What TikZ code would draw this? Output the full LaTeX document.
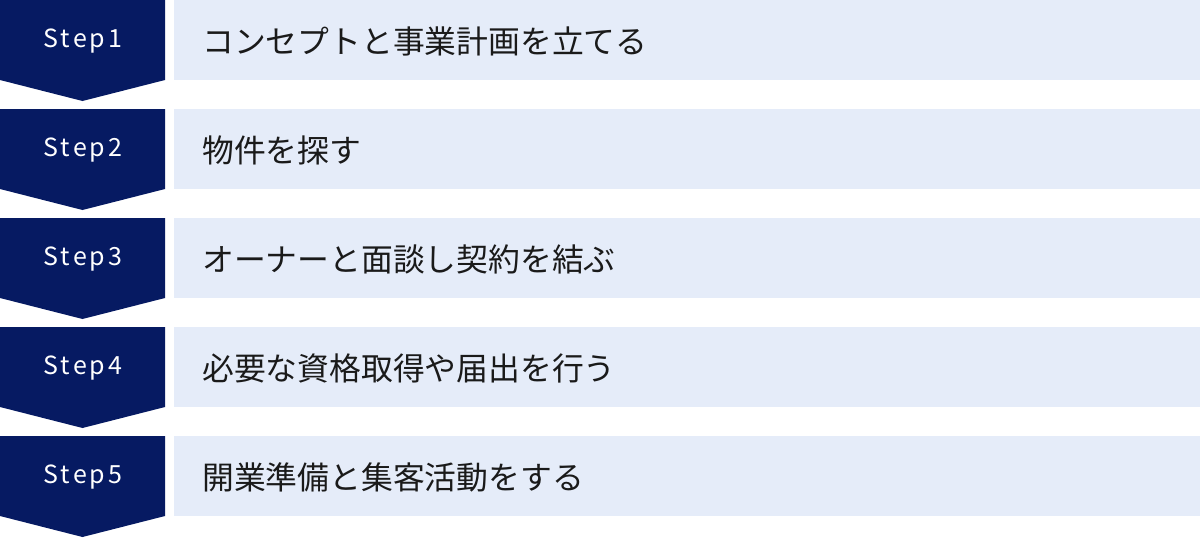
\documentclass[tikz,border=0pt]{standalone}
\usepackage{fontspec}
\setmainfont{Noto Sans CJK JP}
\newfontfamily\stepfont[LetterSpace=12]{Noto Sans CJK JP}
\definecolor{navy}{HTML}{061A62}
\definecolor{pale}{HTML}{E5ECF9}
\definecolor{ink}{HTML}{1A1A1A}
\tikzset{
  chevron/.style={fill=navy, draw=none},
  bar/.style={fill=pale, draw=none, inner sep=0pt, anchor=north west, minimum width=1026pt, minimum height=80pt},
  steplabel/.style={text=white, inner sep=0pt, anchor=base, font=\fontsize{25}{30}\stepfont},
  desc/.style={text=ink, inner sep=0pt, anchor=west, font=\fontsize{31.8}{38}\selectfont},
}
\begin{document}
\begin{tikzpicture}[x=1pt,y=-1pt]
\useasboundingbox (0,0) rectangle (1200,538);
\foreach \i/\t in {1/コンセプトと事業計画を立てる,2/物件を探す,3/オーナーと面談し契約を結ぶ,4/必要な資格取得や届出を行う,5/開業準備と集客活動をする}{
  \pgfmathsetmacro{\yy}{109*(\i-1)}
  \fill[chevron] (0,\yy) -- (165,\yy) -- (165,\yy+80) -- (82.5,\yy+101) -- (0,\yy+80) -- cycle;
  \node[bar] (bar\i) at (174,\yy) {};
  \node[steplabel] (step\i) at (83,\yy+47) {Step\i};
  \node[desc] (desc\i) at (202,\yy+41) {\t};
}
\end{tikzpicture}
\end{document}
